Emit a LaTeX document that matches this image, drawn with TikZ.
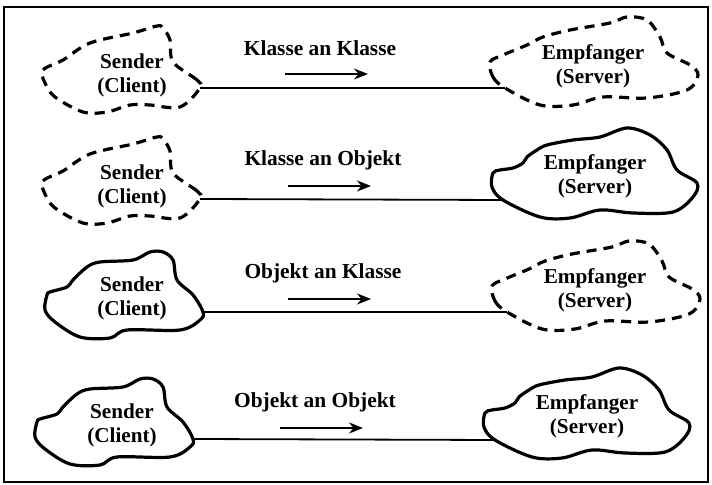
\documentclass[tikz,border=0pt]{standalone}
\usepackage{fontspec}
\setmainfont{Liberation Serif}
\usetikzlibrary{arrows.meta}

\begin{document}
\begin{tikzpicture}[
        x = 0.5pt, y = -0.5pt,
        > = {Stealth[length=7pt, width=5.5pt]},
        outline/.style = {line width=1.6pt, line join=round},
        dashline/.style = {outline, dash pattern=on 5pt off 3.5pt},
        msgline/.style = {line width=0.9pt},
        callarrow/.style = {line width=0.9pt, ->},
        role/.style = {align=center, font=\fontsize{10.6}{12}\selectfont\bfseries},
        msglabel/.style = {font=\fontsize{10.7}{12}\selectfont\bfseries},
        % Sender clouds (dashed and solid).
        dashsender/.pic = {%
            \draw[dashline] plot[smooth cycle, tension=0.55] coordinates {%
                (68,13) (65,5) (41,-13) (38,-35) (31,-47) (25,-49) (1,-42)
                (-42,-32) (-69,-15) (-89,-5) (-87,8) (-77,22) (-49,37)
                (-25,37) (-2,30) (18,30) (48,32)};
            \coordinate (-out) at (68,13);
        },
        solidsender/.pic = {%
            \draw[outline] plot[smooth cycle, tension=0.55] coordinates {%
                (-85,-3) (-87,12) (-77,24) (-52,39) (-22,40) (-5,32) (48,32)
                (68,22) (71,14) (61,-3) (45,-18) (41,-38) (31,-46) (18,-46)
                (1,-38) (-32,-36) (-45,-31) (-59,-18) (-65,-11) (-82,-6)};
            \coordinate (-out) at (71,14);
        },
        % Receiver clouds (dashed and solid).
        dashreceiver/.pic = {%
            \draw[dashline] plot[smooth cycle, tension=0.55] coordinates {%
                (-103,-4) (-100,11) (-88,22) (-53,39) (-20,39) (10,31) (54,32)
                (94,24) (105,9) (97,-1) (74,-13) (67,-29) (54,-46) (34,-49)
                (17,-43) (-23,-36) (-50,-29) (-66,-21) (-90,-11)};
            \coordinate (-in) at (-88,22);
        },
        solidreceiver/.pic = {%
            \draw[outline] plot[smooth cycle, tension=0.55] coordinates {%
                (-102,-3) (-103,11) (-92,24) (-55,41) (-25,42) (5,34) (38,37)
                (78,36) (98,21) (102,7) (82,-6) (72,-26) (55,-41) (32,-48)
                (5,-39) (-22,-36) (-48,-31) (-58,-26) (-68,-19) (-72,-13)
                (-82,-8) (-95,-6)};
            \coordinate (-in) at (-92,24);
        }
    ]

        % Picture size and frame.
        \useasboundingbox (0,0) rectangle (712,485);
        \draw[line width=1pt] (4,7) rectangle (708,482);

        % Senders.
        \node[role] (sender1) at (132,75)  {Sender\\(Client)};
        \node[role] (sender2) at (132,186) {Sender\\(Client)};
        \node[role] (sender3) at (132,298) {Sender\\(Client)};
        \node[role] (sender4) at (122,425) {Sender\\(Client)};
        \pic (sc1) at (sender1) {dashsender};
        \pic (sc2) at (sender2) {dashsender};
        \pic (sc3) at (sender3) {solidsender};
        \pic (sc4) at (sender4) {solidsender};

        % Receivers.
        \node[role] (receiver1) at (593,66)  {Empfanger\\(Server)};
        \node[role] (receiver2) at (595,176) {Empfanger\\(Server)};
        \node[role] (receiver3) at (595,290) {Empfanger\\(Server)};
        \node[role] (receiver4) at (587,416) {Empfanger\\(Server)};
        \pic (rc1) at (receiver1) {dashreceiver};
        \pic (rc2) at (receiver2) {solidreceiver};
        \pic (rc3) at (receiver3) {dashreceiver};
        \pic (rc4) at (receiver4) {solidreceiver};

        % Messages.
        \foreach \n/\x/\y/\txt in {1/320/48/Klasse an Klasse,
                                   2/323/160/Klasse an Objekt,
                                   3/323/273/Objekt an Klasse,
                                   4/315/402/Objekt an Objekt}{%
            \node[msglabel] (msg\n) at (\x,\y) {\txt};
            \coordinate (from\n) at (\x-35,\y+26);
            \coordinate (to\n) at (\x+48,\y+26);
            \draw[callarrow] (from\n) -- (to\n);
            \draw[msgline] (sc\n-out) -- (rc\n-in);
        }
    \end{tikzpicture}
\end{document}
